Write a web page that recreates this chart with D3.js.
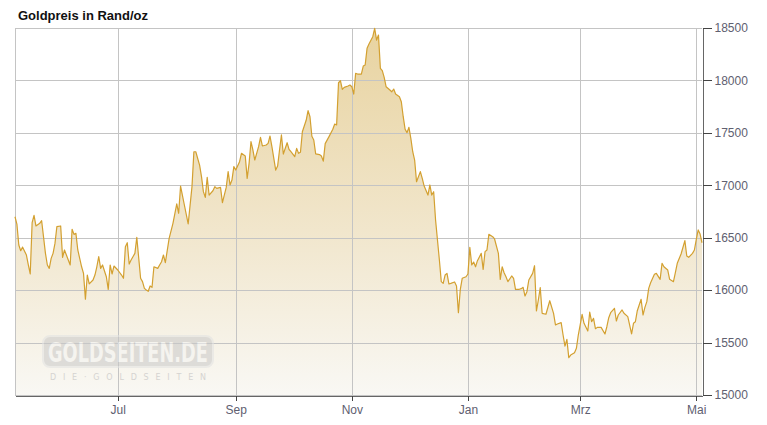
<!DOCTYPE html>
<html>
<head>
<meta charset="utf-8">
<script src="https://cdn.jsdelivr.net/npm/d3@7/dist/d3.min.js"></script>
<style>
  html, body { margin: 0; padding: 0; background: #fff; }
  svg { display: block; font-family: "Liberation Sans", Arial, sans-serif; }
</style>
</head>
<body>
<svg id="chart" width="767" height="425"></svg>
<script>
const title = "Goldpreis in Rand/oz";

const dates = [
"2017-05-08","2017-05-09","2017-05-10","2017-05-11","2017-05-12","2017-05-14","2017-05-15","2017-05-16","2017-05-17","2017-05-18",
"2017-05-19","2017-05-21","2017-05-22","2017-05-24","2017-05-25","2017-05-26","2017-05-27","2017-05-28","2017-05-29","2017-05-30",
"2017-06-01","2017-06-02","2017-06-03","2017-06-04","2017-06-06","2017-06-07","2017-06-08","2017-06-09","2017-06-10","2017-06-11",
"2017-06-12","2017-06-13","2017-06-14","2017-06-15","2017-06-16","2017-06-18","2017-06-19","2017-06-20","2017-06-21","2017-06-22",
"2017-06-23","2017-06-25","2017-06-26","2017-06-27","2017-06-28","2017-06-29","2017-07-01","2017-07-03","2017-07-04","2017-07-05",
"2017-07-06","2017-07-07","2017-07-08","2017-07-10","2017-07-11","2017-07-13","2017-07-14","2017-07-15","2017-07-16","2017-07-17",
"2017-07-18","2017-07-19","2017-07-20","2017-07-22","2017-07-23","2017-07-24","2017-07-25","2017-07-26","2017-07-28","2017-07-30",
"2017-08-01","2017-08-02","2017-08-03","2017-08-05","2017-08-07","2017-08-09","2017-08-10","2017-08-11","2017-08-13","2017-08-14",
"2017-08-15","2017-08-16","2017-08-17","2017-08-18","2017-08-20","2017-08-21","2017-08-22","2017-08-24","2017-08-25","2017-08-27",
"2017-08-28","2017-08-29","2017-08-30","2017-08-31","2017-09-01","2017-09-03","2017-09-04","2017-09-06","2017-09-07","2017-09-08",
"2017-09-09","2017-09-10","2017-09-11","2017-09-13","2017-09-14","2017-09-15","2017-09-17","2017-09-18","2017-09-19","2017-09-20",
"2017-09-22","2017-09-23","2017-09-24","2017-09-25","2017-09-26","2017-09-28","2017-09-29","2017-09-30","2017-10-01","2017-10-02",
"2017-10-03","2017-10-04","2017-10-05","2017-10-06","2017-10-08","2017-10-09","2017-10-10","2017-10-11","2017-10-12","2017-10-13",
"2017-10-15","2017-10-16","2017-10-17","2017-10-18","2017-10-20","2017-10-22","2017-10-23","2017-10-24","2017-10-25","2017-10-26",
"2017-10-27","2017-10-28","2017-10-30","2017-10-31","2017-11-01","2017-11-02","2017-11-03","2017-11-04","2017-11-06","2017-11-07",
"2017-11-08","2017-11-09","2017-11-10","2017-11-12","2017-11-13","2017-11-14","2017-11-15","2017-11-16","2017-11-17","2017-11-18",
"2017-11-19","2017-11-21","2017-11-22","2017-11-23","2017-11-24","2017-11-26","2017-11-27","2017-11-28","2017-11-29","2017-11-30",
"2017-12-01","2017-12-02","2017-12-03","2017-12-04","2017-12-05","2017-12-07","2017-12-08","2017-12-09","2017-12-11","2017-12-12",
"2017-12-13","2017-12-14","2017-12-15","2017-12-16","2017-12-17","2017-12-18","2017-12-19","2017-12-20","2017-12-21","2017-12-22",
"2017-12-23","2017-12-25","2017-12-26","2017-12-27","2017-12-28","2017-12-29","2017-12-31","2018-01-01","2018-01-02","2018-01-03",
"2018-01-04","2018-01-05","2018-01-06","2018-01-08","2018-01-09","2018-01-10","2018-01-11","2018-01-12","2018-01-14","2018-01-15",
"2018-01-17","2018-01-18","2018-01-19","2018-01-20","2018-01-21","2018-01-22","2018-01-24","2018-01-25","2018-01-26","2018-01-28",
"2018-01-29","2018-01-30","2018-01-31","2018-02-01","2018-02-02","2018-02-04","2018-02-05","2018-02-06","2018-02-07","2018-02-08",
"2018-02-09","2018-02-11","2018-02-13","2018-02-15","2018-02-16","2018-02-17","2018-02-19","2018-02-20","2018-02-21","2018-02-22",
"2018-02-23","2018-02-24","2018-02-26","2018-02-27","2018-02-28","2018-03-02","2018-03-03","2018-03-05","2018-03-06","2018-03-07",
"2018-03-08","2018-03-09","2018-03-10","2018-03-12","2018-03-14","2018-03-15","2018-03-16","2018-03-17","2018-03-19","2018-03-20",
"2018-03-21","2018-03-23","2018-03-24","2018-03-26","2018-03-28","2018-03-29","2018-03-30","2018-03-31","2018-04-02","2018-04-03",
"2018-04-04","2018-04-05","2018-04-06","2018-04-07","2018-04-09","2018-04-10","2018-04-12","2018-04-13","2018-04-14","2018-04-16",
"2018-04-17","2018-04-19","2018-04-20","2018-04-21","2018-04-23","2018-04-25","2018-04-26","2018-04-27","2018-04-29","2018-04-30",
"2018-05-01","2018-05-02","2018-05-03","2018-05-04"
];

const prices = [
16700,16630,16430,16376,16410,16335,16240,16154,16643,16714,
16612,16637,16662,16351,16240,16208,16303,16351,16446,16605,
16612,16312,16383,16335,16240,16580,16532,16542,16383,16303,
16223,16160,15913,16144,16059,16097,16144,16223,16319,16208,
16240,16128,16008,16240,16154,16230,16192,16144,16113,16414,
16452,16249,16287,16351,16504,16113,16081,16017,16001,15989,
16040,16027,16223,16208,16240,16271,16335,16262,16494,16637,
16822,16733,16993,16812,16631,16987,17320,17320,17193,17082,
16939,16885,17076,16907,16948,16987,16971,16980,16834,16980,
17130,17003,17050,17178,17145,17225,17305,17280,17066,17209,
17416,17337,17241,17368,17457,17375,17384,17400,17470,17368,
17145,17184,17337,17480,17298,17406,17343,17320,17298,17273,
17352,17305,17315,17511,17620,17712,17654,17467,17432,17300,
17293,17280,17230,17397,17464,17534,17584,17575,17978,17997,
17915,17934,17947,17956,17940,17870,18067,18061,18061,18137,
18147,18306,18347,18417,18497,18385,18433,18115,18093,18029,
17940,17909,17892,17918,17870,17845,17797,17654,17534,17502,
17553,17448,17320,17241,17034,17130,17066,16993,16907,17003,
16907,16939,16669,16478,16287,16081,16065,16144,16160,16059,
16065,16078,16040,15785,16008,16113,16128,16154,16408,16240,
16268,16223,16281,16351,16198,16367,16383,16532,16510,16488,
16351,16103,16223,16166,16128,16081,16135,16113,16008,16008,
16014,16027,15944,15985,16097,16160,16233,15801,15906,16024,
15779,15770,15899,15779,15668,15677,15690,15572,15467,15531,
15356,15381,15403,15445,15572,15769,15684,15610,15791,15699,
15731,15632,15645,15645,15582,15651,15737,15785,15827,15706,
15763,15811,15779,15747,15582,15684,15699,15804,15913,15763,
15836,15890,16017,16071,16151,16160,16103,16256,16223,16192,
16103,16081,16166,16256,16345,16472,16326,16313,16351,16383,
16484,16574,16535,16452
];

const monthTicks = ["2017-07-01","2017-09-01","2017-11-01","2018-01-01","2018-03-01","2018-05-01"];
const monthLabels = ["Jul","Sep","Nov","Jan","Mrz","Mai"];
const priceTicks = [15000,15500,16000,16500,17000,17500,18000,18500];

const parse = d3.timeParse("%Y-%m-%d");
const data = dates.map((d, i) => ({ date: parse(d), value: prices[i] }));

const svg = d3.select("#chart");
const pLeft = 15, pRight = 702, pTop = 28, pBottom = 395;

const x = d3.scaleTime()
  .domain([parse("2017-05-08"), parse("2018-05-04")])
  .range([pLeft, pRight]);
const y = d3.scaleLinear()
  .domain([15000, 18500])
  .range([pBottom, pTop]);

// gradient
const defs = svg.append("defs");
const grad = defs.append("linearGradient")
  .attr("id", "areaGrad")
  .attr("gradientUnits", "userSpaceOnUse")
  .attr("x1", 0).attr("y1", pTop).attr("x2", 0).attr("y2", pBottom);
grad.append("stop").attr("offset", "0%").attr("stop-color", "#e8d3a0");
grad.append("stop").attr("offset", "55%").attr("stop-color", "#f1e6cc");
grad.append("stop").attr("offset", "100%").attr("stop-color", "#f9f8f4");

// title
svg.append("text")
  .attr("x", 18).attr("y", 20)
  .attr("font-size", 13).attr("font-weight", "bold").attr("fill", "#111")
  .text(title);

// area
const area = d3.area()
  .x(d => x(d.date))
  .y0(pBottom)
  .y1(d => y(d.value));
svg.append("path").datum(data)
  .attr("d", area)
  .attr("fill", "url(#areaGrad)");

// gridlines
const grid = svg.append("g").attr("stroke", "#c4c4c4").attr("stroke-width", 1).attr("shape-rendering", "crispEdges");
grid.selectAll("line.h").data(priceTicks).join("line")
  .attr("class", "h")
  .attr("x1", pLeft).attr("x2", pRight)
  .attr("y1", d => Math.round(y(d)) + 0.5).attr("y2", d => Math.round(y(d)) + 0.5);
grid.selectAll("line.v").data(monthTicks).join("line")
  .attr("class", "v")
  .attr("x1", d => Math.round(x(parse(d))) + 0.5).attr("x2", d => Math.round(x(parse(d))) + 0.5)
  .attr("y1", pTop).attr("y2", pBottom);
grid.append("line")
  .attr("x1", pLeft + 0.5).attr("x2", pLeft + 0.5)
  .attr("y1", pTop).attr("y2", pBottom);

// watermark
const wm = svg.append("g").attr("opacity", 0.55);
wm.append("rect")
  .attr("x", 43).attr("y", 336).attr("width", 170).attr("height", 31)
  .attr("rx", 7).attr("fill", "#c8c8c8").attr("stroke", "#e2e2e2").attr("stroke-width", 2);
wm.append("text")
  .attr("x", 48).attr("y", 362)
  .attr("font-family", "'DejaVu Sans Condensed', 'DejaVu Sans', sans-serif")
  .attr("font-weight", "bold").attr("font-size", 26)
  .attr("textLength", 160).attr("lengthAdjust", "spacingAndGlyphs")
  .attr("fill", "#f4f4f4")
  .text("GOLDSEITEN.DE");
wm.append("text")
  .attr("x", 50).attr("y", 380)
  .attr("font-family", "'DejaVu Sans', sans-serif")
  .attr("font-size", 8)
  .attr("textLength", 156).attr("lengthAdjust", "spacing")
  .attr("fill", "#b8b8b8")
  .text("DIE·GOLDSEITEN");

// line
const line = d3.line()
  .x(d => x(d.date))
  .y(d => y(d.value));
svg.append("path").datum(data)
  .attr("d", line)
  .attr("fill", "none")
  .attr("stroke", "#d3a030")
  .attr("stroke-width", 1.2)
  .attr("stroke-linejoin", "round");

// right axis
const yAxis = d3.axisRight(y)
  .tickValues(priceTicks)
  .tickSize(9)
  .tickPadding(3)
  .tickSizeOuter(0)
  .tickFormat(d3.format("d"));
const gy = svg.append("g")
  .attr("transform", `translate(${pRight + 0.5},0)`)
  .call(yAxis);
gy.select(".domain").attr("stroke", "#666").attr("shape-rendering", "crispEdges");
gy.selectAll(".tick line").attr("stroke", "#444").attr("shape-rendering", "crispEdges");
gy.selectAll(".tick text").attr("fill", "#606070").attr("font-size", 12)
  .attr("font-family", "'Liberation Sans', Arial, sans-serif");

// bottom axis
const xAxis = d3.axisBottom(x)
  .tickValues(monthTicks.map(parse))
  .tickSize(5)
  .tickPadding(5)
  .tickSizeOuter(0)
  .tickFormat((d, i) => monthLabels[i]);
const gx = svg.append("g")
  .attr("transform", `translate(0,${pBottom + 0.5})`)
  .call(xAxis);
gx.select(".domain").attr("stroke", "#666").attr("shape-rendering", "crispEdges");
gx.selectAll(".tick line").attr("stroke", "#444").attr("shape-rendering", "crispEdges");
gx.selectAll(".tick text").attr("fill", "#606070").attr("font-size", 12)
  .attr("font-family", "'Liberation Sans', Arial, sans-serif");
</script>
</body>
</html>
